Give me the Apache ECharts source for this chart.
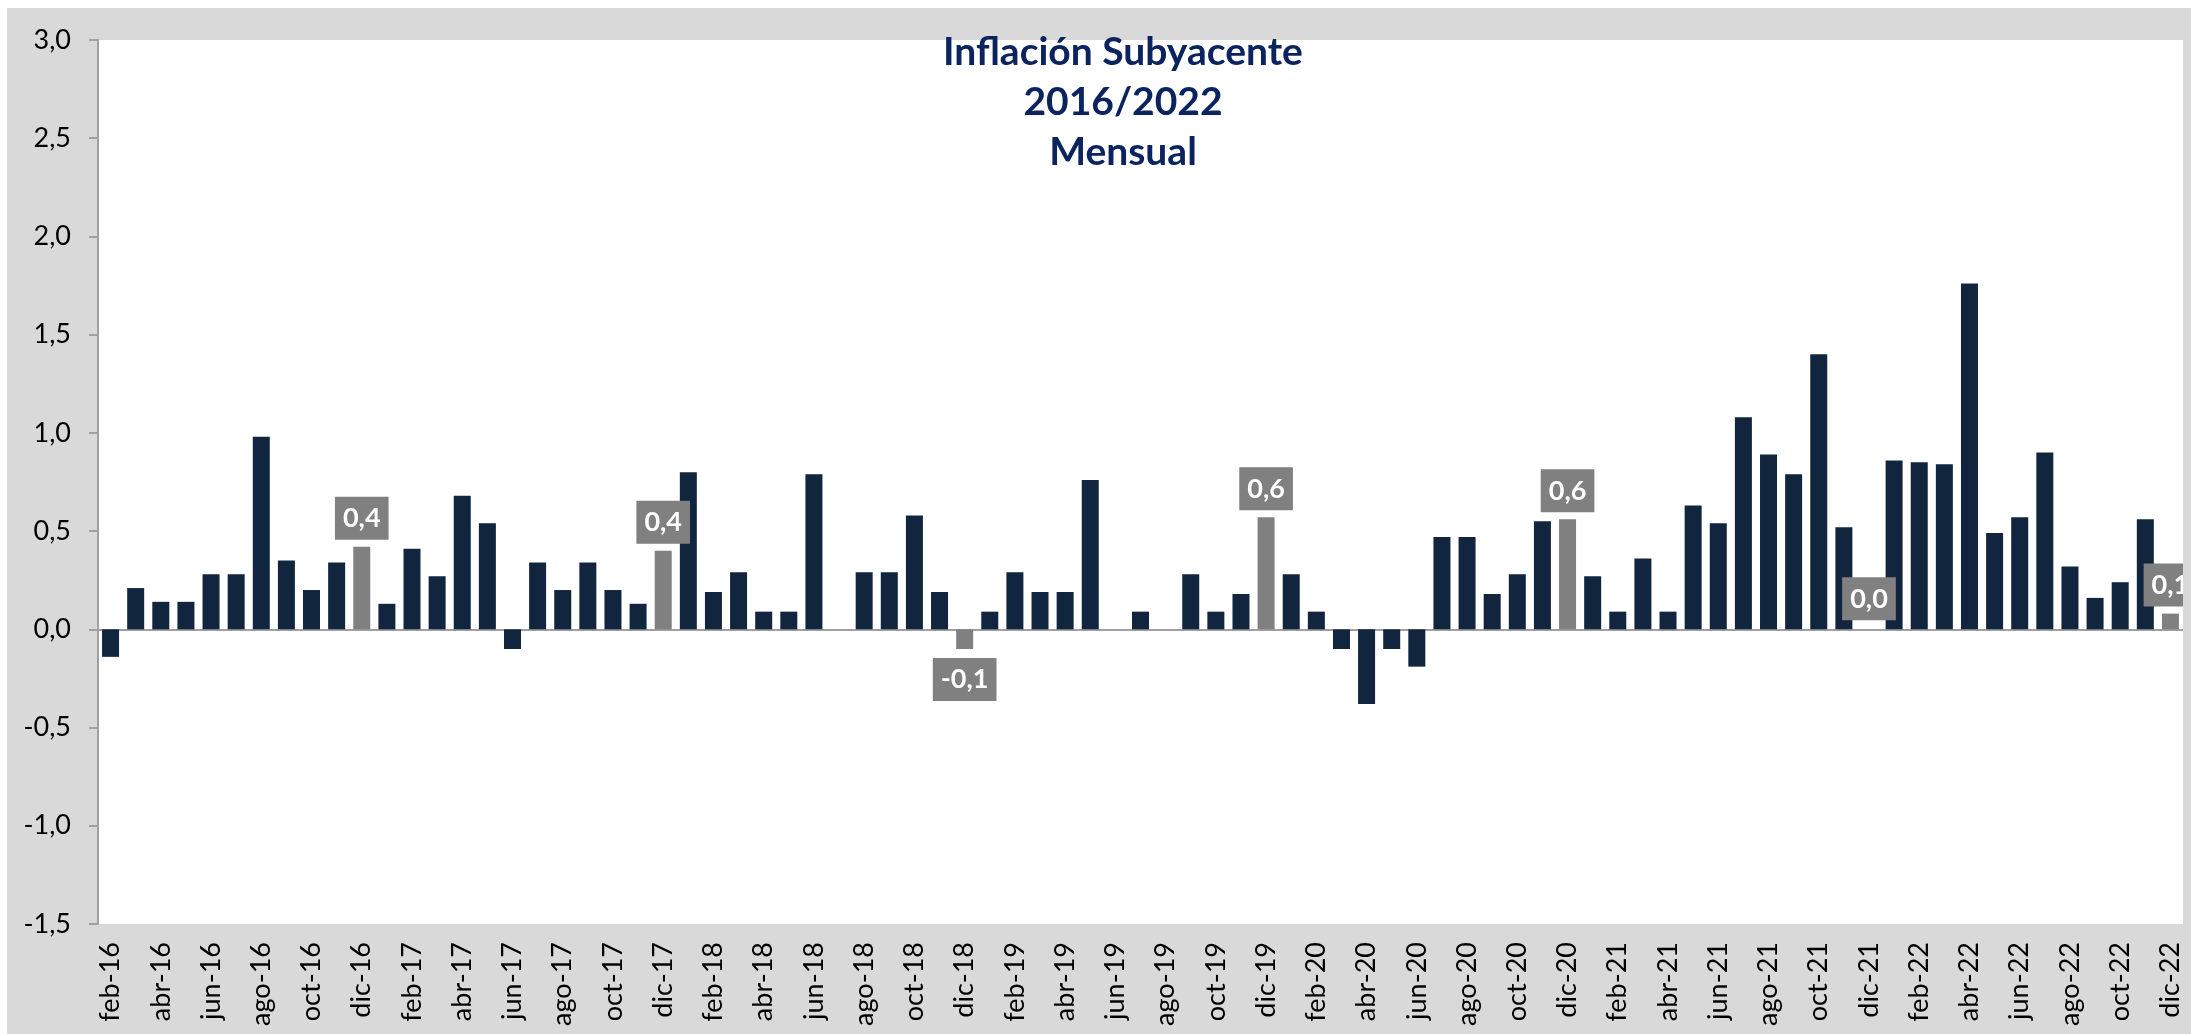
<!DOCTYPE html>
<html lang="es">
<head>
    <meta charset="UTF-8">
    <title>Inflación Subyacente 2016/2022 Mensual</title>
    <script src="https://cdn.jsdelivr.net/npm/echarts@6.0.0/dist/echarts.min.js"></script>
    <style>
        html, body { margin: 0; padding: 0; background: #fff; }
    </style>
</head>
<body>
    <div id="main" style="width: 2191px; height: 1034px;"></div>
    <script type="text/javascript">
        // Meses (feb-16 a dic-22)
        const categories = [
            'feb-16','mar-16','abr-16','may-16','jun-16','jul-16','ago-16','sep-16','oct-16','nov-16','dic-16',
            'ene-17','feb-17','mar-17','abr-17','may-17','jun-17','jul-17','ago-17','sep-17','oct-17','nov-17','dic-17',
            'ene-18','feb-18','mar-18','abr-18','may-18','jun-18','jul-18','ago-18','sep-18','oct-18','nov-18','dic-18',
            'ene-19','feb-19','mar-19','abr-19','may-19','jun-19','jul-19','ago-19','sep-19','oct-19','nov-19','dic-19',
            'ene-20','feb-20','mar-20','abr-20','may-20','jun-20','jul-20','ago-20','sep-20','oct-20','nov-20','dic-20',
            'ene-21','feb-21','mar-21','abr-21','may-21','jun-21','jul-21','ago-21','sep-21','oct-21','nov-21','dic-21',
            'ene-22','feb-22','mar-22','abr-22','may-22','jun-22','jul-22','ago-22','sep-22','oct-22','nov-22','dic-22'
        ];

        // Variación mensual (%)
        const values2016 = [-0.14, 0.21, 0.14, 0.14, 0.28, 0.28, 0.98, 0.35, 0.20, 0.34, 0.42];
        const values2017 = [0.13, 0.41, 0.27, 0.68, 0.54, -0.10, 0.34, 0.20, 0.34, 0.20, 0.13, 0.40];
        const values2018 = [0.80, 0.19, 0.29, 0.09, 0.09, 0.79, 0.00, 0.29, 0.29, 0.58, 0.19, -0.10];
        const values2019 = [0.09, 0.29, 0.19, 0.19, 0.76, 0.00, 0.09, 0.00, 0.28, 0.09, 0.18, 0.57];
        const values2020 = [0.28, 0.09, -0.10, -0.38, -0.10, -0.19, 0.47, 0.47, 0.18, 0.28, 0.55, 0.56];
        const values2021 = [0.27, 0.09, 0.36, 0.09, 0.63, 0.54, 1.08, 0.89, 0.79, 1.40, 0.52, 0.00];
        const values2022 = [0.86, 0.85, 0.84, 1.76, 0.49, 0.57, 0.90, 0.32, 0.16, 0.24, 0.56, 0.08];

        const values = [].concat(values2016, values2017, values2018, values2019,
                                 values2020, values2021, values2022);

        // Diciembre se resalta en gris con etiqueta
        const highlightMonth = 'dic';

        const navy = '#12253f';
        const grey = '#808080';
        const fmt = (v) => v.toFixed(1).replace('.', ',');

        const barData = values.map((v, i) => {
            if (!categories[i].startsWith(highlightMonth)) return v;
            return {
                value: v,
                itemStyle: { color: grey },
                label: {
                    show: true,
                    position: v < 0 ? 'bottom' : 'top',
                    distance: v < 0 ? 9 : (v === 0 ? 9 : 7)
                }
            };
        });

        let myChart = echarts.init(document.getElementById('main'), null, { renderer: 'canvas' });

        let options = {
            backgroundColor: '#d9d9d9',
            animation: false,
            title: {
                text: 'Inflación Subyacente\n2016/2022\nMensual',
                left: 1123,
                top: 27,
                padding: 0,
                textAlign: 'center',
                textStyle: {
                    fontFamily: 'Lato',
                    fontWeight: 'bold',
                    fontSize: 39,
                    lineHeight: 50,
                    color: '#0b2460'
                }
            },
            graphic: [
                // franjas blancas del borde superior e izquierdo
                { type: 'rect', left: 0, top: 0, shape: { width: 2191, height: 8 }, style: { fill: '#fff' }, z: -1, silent: true },
                { type: 'rect', left: 0, top: 0, shape: { width: 7, height: 1034 }, style: { fill: '#fff' }, z: -1, silent: true },
                // borde gris derecho (recorta la última etiqueta)
                { type: 'rect', left: 2183, top: 8, shape: { width: 8, height: 1026 }, style: { fill: '#d9d9d9' }, z: 100, silent: true }
            ],
            grid: {
                left: 98,
                right: 8,
                top: 40,
                bottom: 110,
                show: true,
                backgroundColor: '#fff',
                borderWidth: 0,
                containLabel: false
            },
            xAxis: [{
                type: 'category',
                data: categories,
                position: 'bottom',
                axisLine: { onZero: true, lineStyle: { color: '#a0a0a0', width: 2 } },
                axisTick: { show: false },
                axisLabel: { show: false },
                splitLine: { show: false }
            }, {
                type: 'category',
                data: categories,
                position: 'bottom',
                axisLine: { show: false, onZero: false },
                axisTick: { show: false },
                axisLabel: {
                    rotate: 90,
                    interval: 1,
                    margin: 18,
                    fontFamily: 'Lato',
                    fontSize: 27,
                    color: '#000'
                },
                splitLine: { show: false }
            }],
            yAxis: {
                type: 'value',
                min: -1.5,
                max: 3,
                interval: 0.5,
                axisLine: { show: true, lineStyle: { color: '#a0a0a0', width: 2 } },
                axisTick: { show: true, length: 9, lineStyle: { color: '#a0a0a0', width: 2 } },
                axisLabel: {
                    margin: 27,
                    fontFamily: 'Lato',
                    fontSize: 27,
                    color: '#000',
                    formatter: fmt
                },
                splitLine: { show: false }
            },
            series: [{
                name: 'Inflación subyacente',
                type: 'bar',
                xAxisIndex: 0,
                data: barData,
                barWidth: 17,
                itemStyle: { color: navy },
                label: {
                    show: false,
                    formatter: (p) => fmt(p.value),
                    fontFamily: 'Lato',
                    fontWeight: 'bold',
                    fontSize: 27,
                    lineHeight: 27,
                    color: '#fff',
                    backgroundColor: grey,
                    padding: [8, 8, 8, 8]
                }
            }]
        };

        myChart.setOption(options);
    </script>
</body>
</html>
